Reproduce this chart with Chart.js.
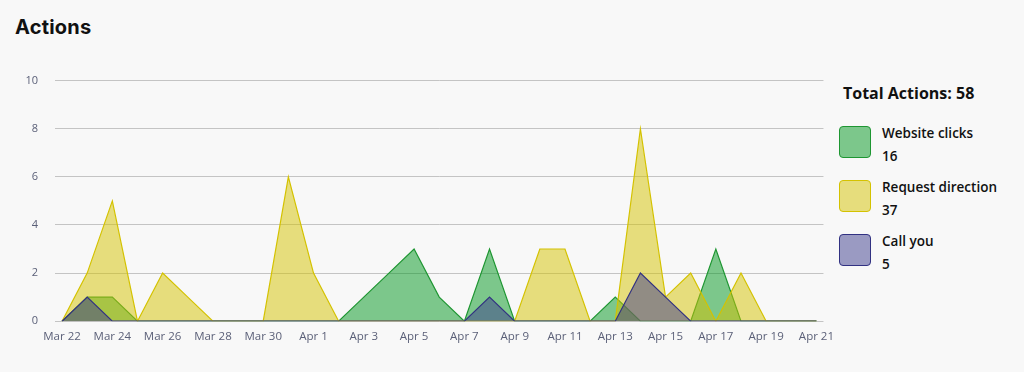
<!DOCTYPE html>
<html>
<head>
<meta charset="utf-8">
<script src="https://cdn.jsdelivr.net/npm/chart.js@4/dist/chart.umd.min.js"></script>
<style>
  html, body { margin:0; padding:0; background:#f8f8f8; width:1024px; height:372px; overflow:hidden; }
  #title { position:absolute; left:15px; top:15px; font-family:Inter, "Noto Sans", sans-serif; font-weight:700; font-size:20px; color:#111; letter-spacing:0.2px; }
  #wrap { position:absolute; left:0; top:57px; width:835px; height:288px; }
  #legend { position:absolute; left:839px; top:82px; font-family:"Open Sans", "Noto Sans", sans-serif; color:#111; }
  #legend .total { font-weight:700; font-size:16px; margin-left:4px; }
  .item { position:absolute; left:0; width:190px; height:34px; }
  .sw { position:absolute; left:0; top:0; width:30px; height:30px; border-radius:4px; border:1px solid; }
  .lab { position:absolute; left:43px; top:-2px; font-size:13.5px; font-weight:600; }
  .val { position:absolute; left:43px; top:21px; font-size:13.5px; font-weight:600; }
</style>
</head>
<body>
<div id="title">Actions</div>
<div id="wrap"><canvas id="c"></canvas></div>
<div id="legend"></div>
<script>
const dates = ["Mar 22","Mar 23","Mar 24","Mar 25","Mar 26","Mar 27","Mar 28","Mar 29","Mar 30","Mar 31",
  "Apr 1","Apr 2","Apr 3","Apr 4","Apr 5","Apr 6","Apr 7","Apr 8","Apr 9","Apr 10",
  "Apr 11","Apr 12","Apr 13","Apr 14","Apr 15","Apr 16","Apr 17","Apr 18","Apr 19","Apr 20","Apr 21"];
const websiteClicks    = [0,1,1,0,0,0,0,0,0,0, 0,0,1,2,3,1,0,3,0,0, 0,0,1,0,0,0,3,0,0,0,0];
const requestDirection = [0,2,5,0,2,1,0,0,0,6, 2,0,0,0,0,0,0,0,0,3, 3,0,0,8,1,2,0,2,0,0,0];
const callYou          = [0,1,0,0,0,0,0,0,0,0, 0,0,0,0,0,0,0,1,0,0, 0,0,0,2,1,0,0,0,0,0,0];
const yTicks = [0,2,4,6,8,10];

const series = [
  {name:"Website clicks", data:websiteClicks, fill:"rgba(0,150,30,0.5)", line:"rgb(30,150,50)", order:3},
  {name:"Request direction", data:requestDirection, fill:"rgba(212,194,0,0.5)", line:"rgb(212,194,0)", order:2},
  {name:"Call you", data:callYou, fill:"rgba(60,60,140,0.5)", line:"rgb(50,50,130)", order:1}
];

const sum = a => a.reduce((s,v)=>s+v,0);
const total = series.reduce((s,d)=>s+sum(d.data),0);
const leg = document.getElementById('legend');
let html = '<div class="total">Total Actions: '+total+'</div>';
series.forEach((s,i)=>{
  html += '<div class="item" style="top:'+(44+i*54)+'px"><div class="sw" style="background:'+s.fill+';border-color:'+s.line+'"></div>'+
    '<div class="lab">'+s.name+'</div><div class="val">'+sum(s.data)+'</div></div>';
});
leg.innerHTML = html;

new Chart(document.getElementById('c'), {
  type:'line',
  data:{
    datasets: series.map(s=>({
      label:s.name,
      data:s.data.map((v,i)=>({x:i,y:v})),
      backgroundColor:s.fill,
      borderColor:s.line,
      borderWidth:1.2,
      fill:'origin',
      tension:0,
      pointRadius:0,
      order:s.order
    }))
  },
  options:{
    responsive:true, maintainAspectRatio:false, animation:false,
    layout:{padding:{left:0,right:0,top:10,bottom:0}},
    plugins:{legend:{display:false}, tooltip:{enabled:false}},
    scales:{
      x:{type:'linear', min:-0.28, max:30.28,
        grid:{display:false}, border:{display:false},
        afterBuildTicks: a => { a.ticks = dates.map((d,i)=>i).filter(i=>i%2===0).map(v=>({value:v})); },
        ticks:{autoSkip:false, maxRotation:0, padding:1, color:'#5b6078',
          font:{family:'"Open Sans", sans-serif', size:11.5},
          callback:v=>dates[v]}
      },
      y:{min:0, max:10,
        afterFit: a => { a.width = 55; },
        afterBuildTicks: a => { a.ticks = yTicks.map(v=>({value:v})); },
        grid:{color:'#c4c4c4', drawTicks:false, lineWidth:1},
        border:{display:false},
        ticks:{padding:17, color:'#5b6078', font:{family:'"Open Sans", sans-serif', size:11}}
      }
    }
  }
});
</script>
</body>
</html>
